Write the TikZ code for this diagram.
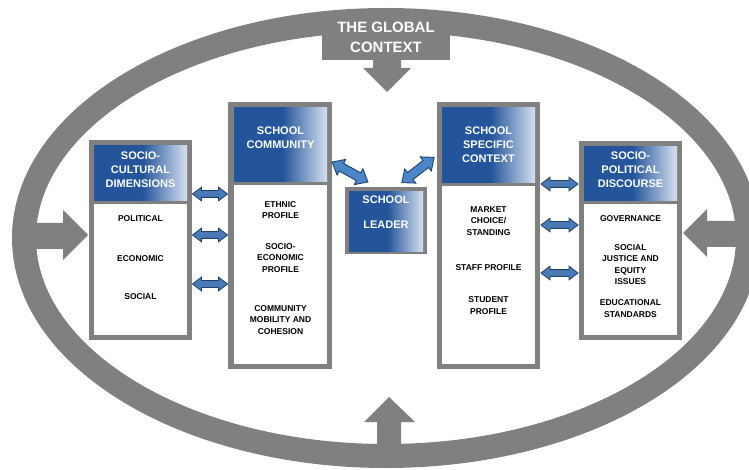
\documentclass[tikz,border=0pt]{standalone}
\usepackage{fontspec}
\setmainfont{Liberation Sans}
\usetikzlibrary{shapes.arrows}

\definecolor{framegray}{HTML}{808080}
\definecolor{headblue}{HTML}{24559A}
\definecolor{headlight}{HTML}{D6E1F1}
\definecolor{linkblue}{HTML}{4A7AB6}
\definecolor{linkdark}{HTML}{22416E}
\definecolor{leadlink}{HTML}{4A86C8}
\pgfdeclarehorizontalshading{headshade}{100bp}{color(0bp)=(headblue); color(51bp)=(headblue); color(75bp)=(headlight); color(100bp)=(headlight)}

\tikzset{
  frame/.style={fill=framegray, inner sep=0pt, anchor=north west},
  head/.style={shading=headshade, inner sep=0pt, anchor=north west},
  body/.style={fill=white, inner sep=0pt, anchor=north west},
  headtext/.style={text=white, font=\fontsize{11}{14}\selectfont\bfseries, align=center, inner sep=0pt},
  item/.style={font=\fontsize{8.5}{11.5}\selectfont\bfseries, align=center, inner sep=0pt},
  link/.style={double arrow, fill=linkblue, draw=linkdark, line width=0.8pt, double arrow head extend=3.5pt, double arrow tip angle=75, inner xsep=0pt, inner ysep=3pt},
  leadarrow/.style={double arrow, fill=leadlink, draw=linkdark, line width=0.9pt, minimum height=41pt, double arrow head extend=4.5pt, double arrow tip angle=80, inner xsep=0pt, inner ysep=4pt},
}

\begin{document}
\begin{tikzpicture}[x=1pt, y=-1pt]
\useasboundingbox (0,0) rectangle (749,470);

% the global context ring
\draw[framegray, line width=24pt] (386,238) ellipse [x radius=362, y radius=218];
\node[frame, minimum width=128pt, minimum height=45pt] (glob) at (322,15) {};
\node[headtext, font=\fontsize{15}{20}\selectfont\bfseries] (globtxt) at (386,37) {THE GLOBAL\\CONTEXT};
\fill[framegray] (373,59) -- (401,59) -- (401,68) -- (411,68) -- (387,92) -- (363,68) -- (373,68) -- cycle;
\fill[framegray] (377,447) -- (377,422) -- (364,422) -- (389,397) -- (415,422) -- (401,422) -- (401,447) -- cycle;
\fill[framegray] (28,223) -- (63,223) -- (63,210) -- (88,235) -- (63,260) -- (63,249) -- (28,249) -- cycle;
\fill[framegray] (745,221) -- (707,221) -- (707,209) -- (683,233) -- (707,257) -- (707,247) -- (745,247) -- cycle;

% socio-cultural dimensions
\node[frame, minimum width=103pt, minimum height=200pt] (cult) at (89,140) {};
\node[head, minimum width=93pt, minimum height=55pt] (culthead) at (94,145) {};
\node[body, minimum width=93pt, minimum height=131pt] (cultbody) at (94,204) {};
\node[headtext] (culttxt) at (140.5,170) {SOCIO-\\CULTURAL\\DIMENSIONS};
\node[item] (polit) at (140.5,219) {POLITICAL};
\node[item] (econ) at (140.5,259) {ECONOMIC};
\node[item] (soc) at (140.5,297) {SOCIAL};

% school community
\node[frame, minimum width=104pt, minimum height=267pt] (comm) at (228,102) {};
\node[head, minimum width=93pt, minimum height=74pt] (commhead) at (234,107) {};
\node[body, minimum width=93pt, minimum height=179pt] (commbody) at (234,185) {};
\node[headtext] (commtxt) at (280.5,138) {SCHOOL\\COMMUNITY};
\node[item] (ethnic) at (280.5,210) {ETHNIC\\PROFILE};
\node[item] (socecon) at (280.5,258) {SOCIO-\\ECONOMIC\\PROFILE};
\node[item] (mobil) at (280.5,320) {COMMUNITY\\MOBILITY AND\\COHESION};

% school leader
\node[frame, minimum width=82pt, minimum height=67pt] (lead) at (345,187) {};
\node[head, minimum width=74pt, minimum height=60pt] (leadhead) at (349,191) {};
\node[headtext] (leadtxt) at (386,212.5) {SCHOOL\\[11pt]LEADER};

% school specific context
\node[frame, minimum width=103pt, minimum height=267pt] (spec) at (437,102) {};
\node[head, minimum width=93pt, minimum height=75pt] (spechead) at (442,107) {};
\node[body, minimum width=93pt, minimum height=178pt] (specbody) at (442,186) {};
\node[headtext] (spectxt) at (488.5,145) {SCHOOL\\SPECIFIC\\CONTEXT};
\node[item] (market) at (488.5,221) {MARKET\\CHOICE/\\STANDING};
\node[item] (staff) at (488.5,268) {STAFF PROFILE};
\node[item] (student) at (488.5,305.5) {STUDENT\\PROFILE};

% socio-political discourse
\node[frame, minimum width=103pt, minimum height=199pt] (polt) at (579,141) {};
\node[head, minimum width=93pt, minimum height=54pt] (polthead) at (584,146) {};
\node[body, minimum width=93pt, minimum height=131pt] (poltbody) at (584,204) {};
\node[headtext] (polttxt) at (630.5,170) {SOCIO-\\POLITICAL\\DISCOURSE};
\node[item] (govern) at (630.5,219) {GOVERNANCE};
\node[item] (justice) at (630.5,264.5) {SOCIAL\\JUSTICE AND\\EQUITY\\ISSUES};
\node[item] (edu) at (630.5,308.5) {EDUCATIONAL\\STANDARDS};

% links
\node[link, minimum height=35pt] (cl1) at (210,194) {};
\node[link, minimum height=35pt] (cl2) at (210,235) {};
\node[link, minimum height=35pt] (cl3) at (210,284) {};
\node[link, minimum height=37pt] (sl1) at (559.5,184) {};
\node[link, minimum height=37pt] (sl2) at (559.5,225) {};
\node[link, minimum height=37pt] (sl3) at (559.5,273) {};
\node[leadarrow, rotate=-29] (ll) at (350,172) {};
\node[leadarrow, rotate=38] (lr) at (418,170) {};

\end{tikzpicture}
\end{document}
